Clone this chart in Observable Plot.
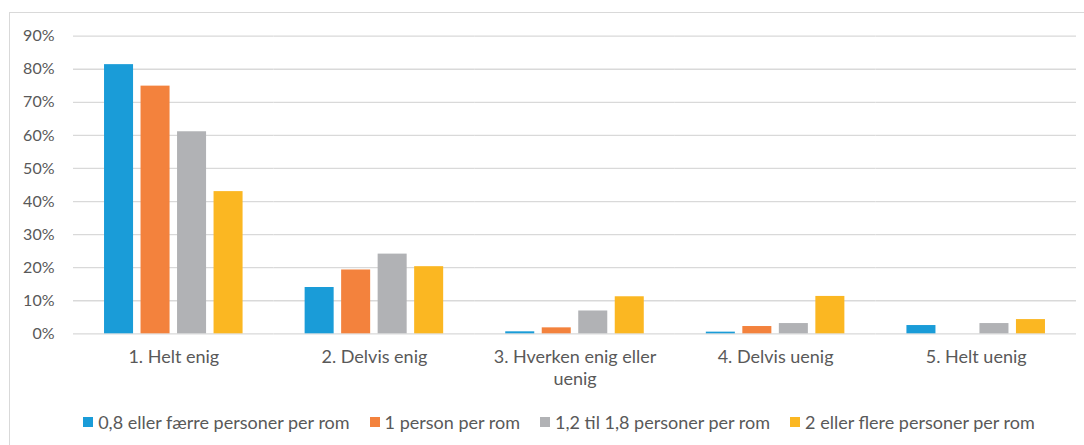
<!DOCTYPE html>
<html>
<head>
<meta charset="utf-8">
<script src="https://cdn.jsdelivr.net/npm/d3@7"></script>
<script src="https://cdn.jsdelivr.net/npm/@observablehq/plot@0.6"></script>
<style>
  html, body { margin: 0; padding: 0; background: #fff; }
  body { width: 1084px; height: 445px; overflow: hidden; position: relative; font-family: Lato, "Liberation Sans", sans-serif; }
  #frame { position: absolute; left: 9px; top: 12px; width: 1100px; height: 460px; border-left: 1px solid #d9d9d9; border-top: 1px solid #d9d9d9; }
  #chart { position: absolute; left: 0; top: 0; }
  #legend { position: absolute; left: 0; top: 405px; width: 1138px; display: flex; justify-content: center; }
  .lg { font-family: Lato, "Liberation Sans", sans-serif; font-size: 18px; color: #595959; }
  .lg-swatch { margin-right: 20px !important; }
  .lg-swatch svg { margin-right: 5px !important; }
</style>
</head>
<body>
<div id="frame"></div>
<div id="chart"></div>
<div id="legend"></div>
<script>
const categories = ["1. Helt enig", "2. Delvis enig", "3. Hverken enig eller uenig", "4. Delvis uenig", "5. Helt uenig"];
const categoryLabels = ["1. Helt enig", "2. Delvis enig", "3. Hverken enig eller\nuenig", "4. Delvis uenig", "5. Helt uenig"];
const seriesNames = ["0,8 eller færre personer per rom", "1 person per rom", "1,2 til 1,8 personer per rom", "2 eller flere personer per rom"];
const seriesColors = ["#1a9cd8", "#f3823d", "#b1b2b5", "#fbb722"];
const valuesSmall = [0.814, 0.140, 0.006, 0.005, 0.025];   // 0,8 eller færre
const valuesOne = [0.749, 0.193, 0.018, 0.022, 0.0];        // 1 person
const valuesMid = [0.611, 0.241, 0.069, 0.031, 0.031];      // 1,2 til 1,8
const valuesLarge = [0.430, 0.203, 0.112, 0.113, 0.043];    // 2 eller flere
const yTicks = [0, 0.1, 0.2, 0.3, 0.4, 0.5, 0.6, 0.7, 0.8, 0.9];

const seriesValues = [valuesSmall, valuesOne, valuesMid, valuesLarge];
const data = [];
seriesNames.forEach((s, i) => categories.forEach((c, j) => data.push({category: c, series: s, value: seriesValues[i][j]})));

const labelOf = new Map(categories.map((c, i) => [c, categoryLabels[i]]));
const font = 'Lato, "Liberation Sans", sans-serif';

const chart = Plot.plot({
  width: 1084,
  height: 400,
  marginLeft: 73,
  marginRight: 8,
  marginTop: 35.7,
  marginBottom: 66.7,
  style: {fontFamily: font, fontSize: "17px", color: "#595959", background: "transparent"},
  fx: {domain: categories, paddingInner: 0, paddingOuter: 0, round: false},
  x: {domain: seriesNames, paddingInner: 0.205, paddingOuter: 0.85, round: false, axis: null},
  y: {domain: [0, 0.9]},
  color: {domain: seriesNames, range: seriesColors},
  marks: [
    Plot.ruleY(yTicks, {y: d => d, stroke: "#d9d9d9", strokeWidth: 1.3}),
    Plot.barY(data, {fx: "category", x: "series", y: "value", fill: "series"}),
    Plot.axisY({ticks: yTicks, tickFormat: d3.format(".0%"), tickSize: 0, tickPadding: 19, label: null, fill: "#595959", fontSize: 16}),
    Plot.axisFx({anchor: "bottom", tickSize: 0, tickPadding: 13, label: null, tickFormat: d => labelOf.get(d), lineHeight: 1.25, fill: "#595959", fontSize: 18})
  ]
});
document.getElementById("chart").appendChild(chart);

const legend = Plot.legend({
  color: {domain: seriesNames, range: seriesColors},
  swatchSize: 10,
  className: "lg",
  style: {fontFamily: font, fontSize: "18px", color: "#595959"}
});
document.getElementById("legend").appendChild(legend);
</script>
</body>
</html>
